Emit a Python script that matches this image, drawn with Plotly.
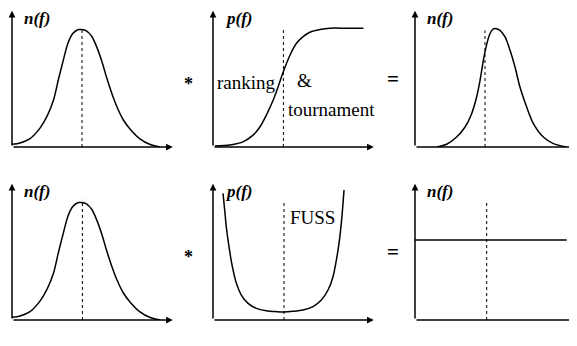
import plotly.graph_objects as go

# values: f runs 0..10 along each axis, heights 0..1
f_start = [0, 0.5, 1.1, 1.75, 2.2, 2.6, 2.9, 3.2, 3.5, 3.8, 4.15, 4.35, 4.65, 4.98,
           5.3, 5.6, 5.9, 6.23, 6.55, 6.96, 7.4, 8.0, 8.6, 9.25]
n_start = [0.02, 0.03, 0.06, 0.14, 0.23, 0.35, 0.50, 0.64, 0.77, 0.84, 0.87, 0.87,
           0.86, 0.82, 0.74, 0.64, 0.52, 0.40, 0.30, 0.20, 0.13, 0.06, 0.02, 0.0]

f_rank = [0.12, 1.06, 1.9, 2.52, 2.94, 3.35, 3.77, 4.08, 4.4, 4.81, 5.23, 5.65,
          6.06, 6.69, 7.31, 8.35, 9.4]
p_rank = [0.007, 0.015, 0.04, 0.09, 0.15, 0.24, 0.35, 0.45, 0.56, 0.68, 0.77,
          0.82, 0.85, 0.87, 0.88, 0.88, 0.88]

f_after_rank = [1.35, 1.98, 2.6, 3.13, 3.54, 3.85, 4.06, 4.27, 4.44, 4.65, 4.85, 5.0,
                5.31, 5.63, 5.94, 6.25, 6.56, 6.98, 7.4, 8.02, 8.65, 9.48]
n_after_rank = [0.0, 0.02, 0.074, 0.148, 0.247, 0.37, 0.49, 0.64, 0.74, 0.83, 0.87,
                0.877, 0.864, 0.815, 0.716, 0.593, 0.444, 0.296, 0.173, 0.074, 0.025, 0.0]

f_fuss = [0.625, 0.73, 0.83, 1.0, 1.21, 1.46, 1.77, 2.19, 2.71, 3.33, 3.96, 4.44,
          5.0, 5.63, 6.25, 6.77, 7.19, 7.5, 7.71, 7.875, 8.02, 8.125, 8.19]
p_fuss = [0.938, 0.815, 0.691, 0.543, 0.395, 0.272, 0.185, 0.123, 0.086, 0.069,
          0.062, 0.059, 0.064, 0.074, 0.099, 0.148, 0.222, 0.321, 0.444, 0.568,
          0.716, 0.864, 0.963]

f_after_fuss = [0, 9.48]
n_after_fuss = [0.593, 0.593]

# dotted marker line in each panel (position, height)
mark_f = [4.375, 4.4, 4.375, 4.4, 4.44, 4.48]
mark_top = [0.87, 0.87, 0.864, 0.89, 0.889, 0.877]

y_labels = ["n(f)", "p(f)", "n(f)", "n(f)", "p(f)", "n(f)"]
curves = [(f_start, n_start), (f_rank, p_rank), (f_after_rank, n_after_rank),
          (f_start, n_start), (f_fuss, p_fuss), (f_after_fuss, n_after_fuss)]

# the page puts the plot 8px in from the corner
OFF = 8
W, H = 577 - OFF, 346 - OFF
col_px = [12, 213, 415]   # left edge of each panel (y axis), window pixels
row_px = [147, 320]       # baseline of each row (x axis), window pixels
SERIF = "Liberation Serif, Times New Roman, Times, serif"


def px_x(p):
    return (p - OFF) / W


def px_y(p):
    return 1 - (p - OFF) / H


fig = go.Figure()
annotations = []
layout = {}

for i in range(6):
    r, c = divmod(i, 3)
    k = "" if i == 0 else str(i + 1)
    x0 = col_px[c]
    yb = row_px[r]
    layout["xaxis" + k] = dict(domain=[px_x(x0), px_x(x0 + 160)], range=[0, 10],
                               visible=False, anchor="y" + k)
    layout["yaxis" + k] = dict(domain=[px_y(yb), px_y(yb - 135)], range=[0, 1],
                               visible=False, anchor="x" + k)
    xr, yr = "x" + k, "y" + k

    fx, fy = curves[i]
    fig.add_trace(go.Scatter(x=fx, y=fy, mode="lines", xaxis=xr, yaxis=yr,
                             line=dict(color="black", width=1.5, shape="spline", smoothing=0.8),
                             showlegend=False, hoverinfo="skip"))
    fig.add_trace(go.Scatter(x=[mark_f[i], mark_f[i]], y=[0, mark_top[i]], mode="lines",
                             xaxis=xr, yaxis=yr,
                             line=dict(color="black", width=1, dash="dot"),
                             showlegend=False, hoverinfo="skip"))

    # axes with arrowheads
    for tip, tail in [((10.05, 0), (0, 0)), ((0, 1.01), (0, 0))]:
        annotations.append(dict(x=tip[0], y=tip[1], ax=tail[0], ay=tail[1],
                                xref=xr, yref=yr, axref=xr, ayref=yr, text="",
                                showarrow=True, arrowhead=2, arrowsize=0.9,
                                arrowwidth=1.5, arrowcolor="black"))
    annotations.append(dict(x=0.6, y=0.95, xref=xr, yref=yr, xanchor="left",
                            yanchor="middle",
                            text="<b><i>" + y_labels[i] + "</i></b>", showarrow=False,
                            font=dict(family=SERIF, size=17, color="black")))
    annotations.append(dict(x=9.45, y=-0.14, xref=xr, yref=yr,
                            xanchor="center", yanchor="middle",
                            text="<b><i>f</i></b>", showarrow=False,
                            font=dict(family=SERIF, size=18, color="black")))

# operators between panels
for r in range(2):
    yb = row_px[r]
    annotations.append(dict(x=px_x(188), y=px_y(yb - 63), xref="paper", yref="paper",
                            xanchor="center", yanchor="middle",
                            text="<b>*</b>", showarrow=False,
                            font=dict(family=SERIF, size=18, color="black")))
    annotations.append(dict(x=px_x(393), y=px_y(yb - 68), xref="paper", yref="paper",
                            xanchor="center", yanchor="middle",
                            text="<b>=</b>", showarrow=False,
                            font=dict(family=SERIF, size=21, color="black")))

# method names
annotations.append(dict(x=0.15, y=0.48, xref="x2", yref="y2", xanchor="left",
                        yanchor="middle", text="ranking", showarrow=False,
                        font=dict(family=SERIF, size=19, color="black")))
annotations.append(dict(x=5.1, y=0.49, xref="x2", yref="y2", xanchor="left",
                        yanchor="middle", text="&", showarrow=False,
                        font=dict(family=SERIF, size=19, color="black")))
annotations.append(dict(x=4.55, y=0.28, xref="x2", yref="y2", xanchor="left",
                        yanchor="middle", text="tournament", showarrow=False,
                        font=dict(family=SERIF, size=19, color="black")))
annotations.append(dict(x=4.7, y=0.76, xref="x5", yref="y5", xanchor="left",
                        yanchor="middle", text="FUSS", showarrow=False,
                        font=dict(family=SERIF, size=19, color="black")))

fig.update_layout(width=W, height=H, margin=dict(l=0, r=0, t=0, b=0),
                  paper_bgcolor="white", plot_bgcolor="white",
                  annotations=annotations, **layout)
fig.write_html("out.html")
